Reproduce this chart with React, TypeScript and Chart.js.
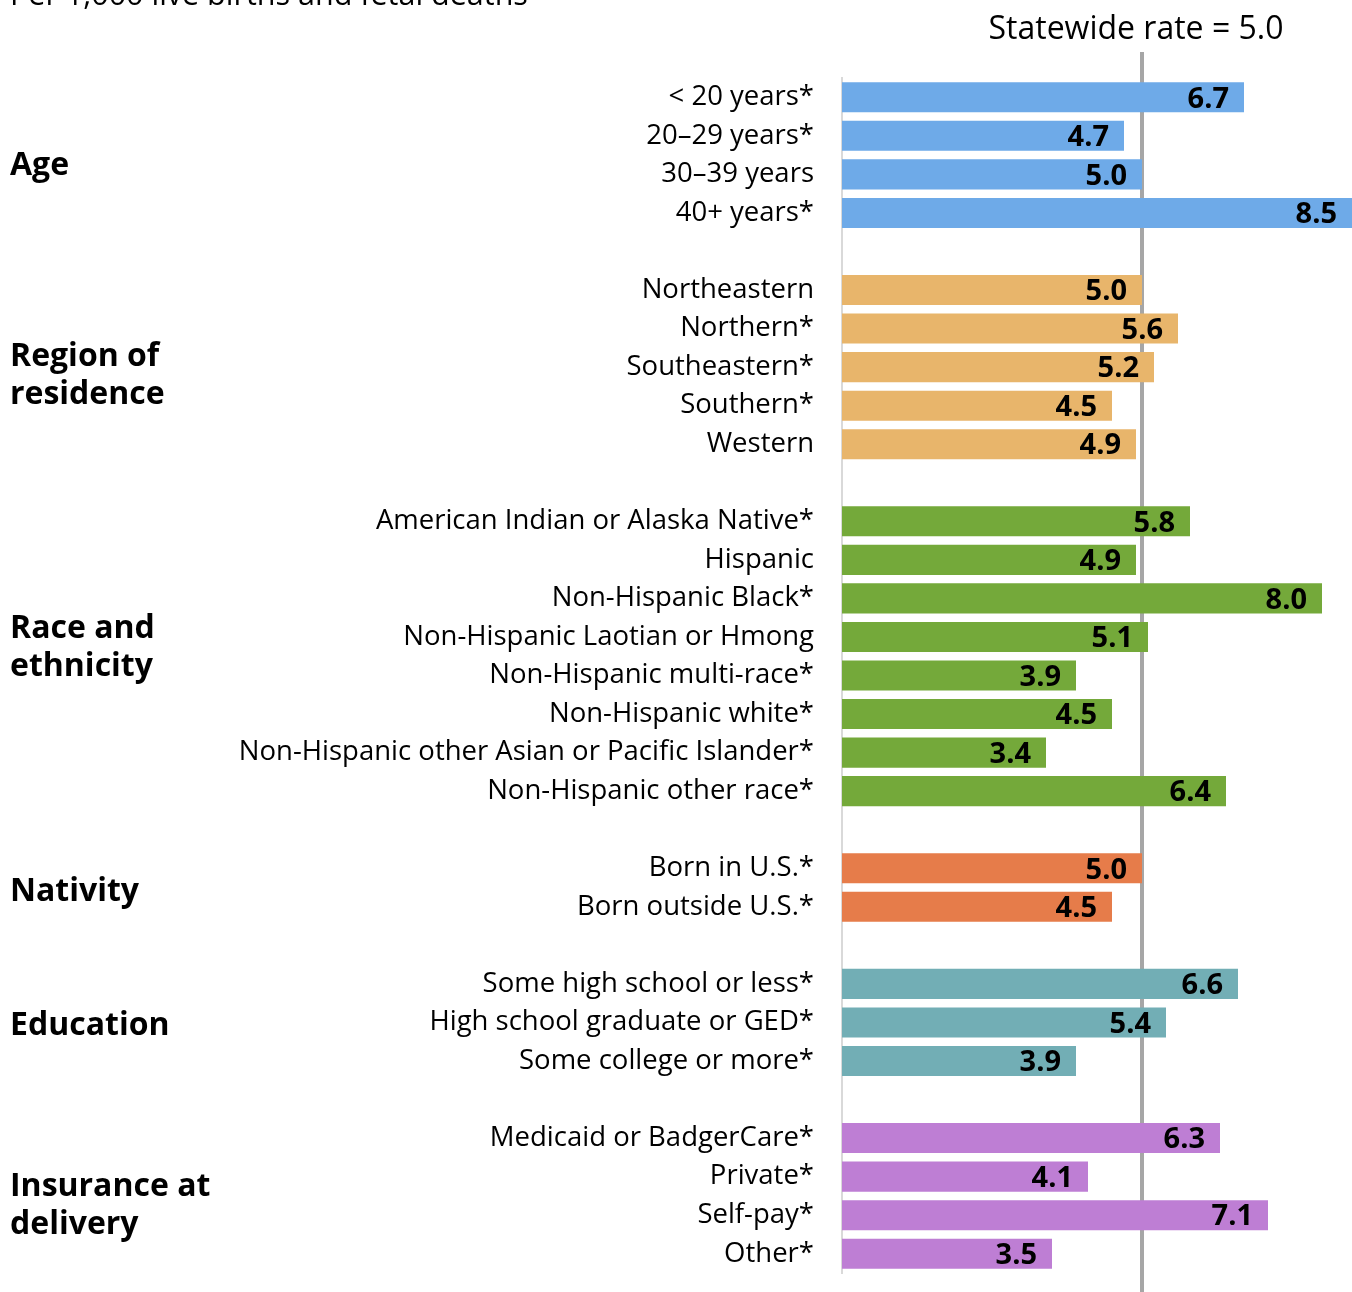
import React, { useEffect, useRef } from "react";
import { Chart, registerables } from "chart.js";

Chart.register(...registerables);

const ageLabels = ["< 20 years*", "20–29 years*", "30–39 years", "40+ years*"];
const ageValues = [6.7, 4.7, 5.0, 8.5];
const regionLabels = ["Northeastern", "Northern*", "Southeastern*", "Southern*", "Western"];
const regionValues = [5.0, 5.6, 5.2, 4.5, 4.9];
const raceLabels = [
  "American Indian or Alaska Native*",
  "Hispanic",
  "Non-Hispanic Black*",
  "Non-Hispanic Laotian or Hmong",
  "Non-Hispanic multi-race*",
  "Non-Hispanic white*",
  "Non-Hispanic other Asian or Pacific Islander*",
  "Non-Hispanic other race*",
];
const raceValues = [5.8, 4.9, 8.0, 5.1, 3.9, 4.5, 3.4, 6.4];
const nativityLabels = ["Born in U.S.*", "Born outside U.S.*"];
const nativityValues = [5.0, 4.5];
const educationLabels = ["Some high school or less*", "High school graduate or GED*", "Some college or more*"];
const educationValues = [6.6, 5.4, 3.9];
const insuranceLabels = ["Medicaid or BadgerCare*", "Private*", "Self-pay*", "Other*"];
const insuranceValues = [6.3, 4.1, 7.1, 3.5];

const groupNames = [["Age"], ["Region of", "residence"], ["Race and", "ethnicity"], ["Nativity"], ["Education"], ["Insurance at", "delivery"]];
const groupColors = ["#6EAAE8", "#E8B56B", "#74A93A", "#E67C4A", "#72AEB5", "#BE7ED4"];
const statewideRate = 5.0;
const subtitle = "Per 1,000 live births and fetal deaths";
const statewideText = "Statewide rate = 5.0";

const groups = [
  { labels: ageLabels, values: ageValues },
  { labels: regionLabels, values: regionValues },
  { labels: raceLabels, values: raceValues },
  { labels: nativityLabels, values: nativityValues },
  { labels: educationLabels, values: educationValues },
  { labels: insuranceLabels, values: insuranceValues },
];

// vertical nudges (px) of the group titles relative to their group's centre
const titleNudges = [10, 8, -9, 3, 2, 9];

const FONT = "'Open Sans', sans-serif";

export default function App() {
  const ref = useRef<HTMLCanvasElement>(null);
  useEffect(() => {
    document.body.style.margin = "0";
    const labels: string[] = [];
    const values: (number | null)[] = [];
    const colors: string[] = [];
    const groupRanges: [number, number][] = [];
    groups.forEach((g, gi) => {
      if (gi > 0) {
        labels.push("");
        values.push(null);
        colors.push("transparent");
      }
      const start = labels.length;
      g.labels.forEach((l, i) => {
        labels.push(l);
        values.push(g.values[i]);
        colors.push(groupColors[gi]);
      });
      groupRanges.push([start, labels.length - 1]);
    });

    const overlay = {
      id: "overlay",
      beforeDatasetsDraw(chart: any) {
        const { ctx } = chart;
        const x = chart.scales.x.getPixelForValue(statewideRate);
        ctx.save();
        ctx.strokeStyle = "#a6a6a6";
        ctx.lineWidth = 4;
        ctx.beginPath();
        ctx.moveTo(x, 52);
        ctx.lineTo(x, chart.height);
        ctx.stroke();
        ctx.restore();
      },
      afterDatasetsDraw(chart: any) {
        const { ctx } = chart;
        const meta = chart.getDatasetMeta(0);
        ctx.save();
        ctx.fillStyle = "#000";
        ctx.font = `bold 29px ${FONT}`;
        ctx.textAlign = "right";
        ctx.textBaseline = "middle";
        meta.data.forEach((bar: any, i: number) => {
          const v = values[i];
          if (v == null) return;
          ctx.fillText(v.toFixed(1), bar.x - 15, bar.y + 2);
        });
        // group titles
        ctx.textAlign = "left";
        ctx.font = `bold 32px ${FONT}`;
        const ys = chart.scales.y;
        groupRanges.forEach(([a, b], gi) => {
          const cy = (ys.getPixelForValue(a) + ys.getPixelForValue(b)) / 2 + titleNudges[gi];
          const lines = groupNames[gi];
          const lh = 38;
          lines.forEach((ln, li) => {
            ctx.fillText(ln, 10, cy + (li - (lines.length - 1) / 2) * lh + 1);
          });
        });
        // statewide text
        const x = chart.scales.x.getPixelForValue(statewideRate);
        ctx.font = `32px ${FONT}`;
        ctx.textAlign = "center";
        ctx.textBaseline = "alphabetic";
        ctx.fillText(statewideText, x - 6, 39);
        // subtitle
        ctx.textAlign = "left";
        ctx.font = `30.5px ${FONT}`;
        ctx.fillText(subtitle, 10, 5);
        ctx.restore();
      },
    };

    const chart = new Chart(ref.current!, {
      type: "bar",
      data: {
        labels,
        datasets: [
          {
            data: values as any,
            backgroundColor: colors,
            barPercentage: 0.78,
            categoryPercentage: 1,
          },
        ],
      },
      options: {
        indexAxis: "y",
        animation: false,
        responsive: false,
        devicePixelRatio: 1,
        layout: { padding: { top: 78, bottom: 19, left: 0, right: 0 } },
        plugins: { legend: { display: false }, tooltip: { enabled: false } },
        scales: {
          x: {
            display: false,
            min: 0,
            max: 8.5,
          },
          y: {
            grid: { display: false, drawTicks: false },
            border: { display: true, color: "#d9d9d9", width: 2 },
            ticks: {
              color: "#000",
              font: { family: FONT, size: 27.5 },
              padding: 28,
              autoSkip: false,
            },
            afterFit(scale: any) {
              scale.width = 842;
              scale.paddingTop = 0;
              scale.paddingBottom = 0;
            },
          },
        },
      },
      plugins: [overlay],
    });
    return () => chart.destroy();
  }, []);
  return <canvas ref={ref} width={1352} height={1292} style={{ display: "block" }} />;
}
